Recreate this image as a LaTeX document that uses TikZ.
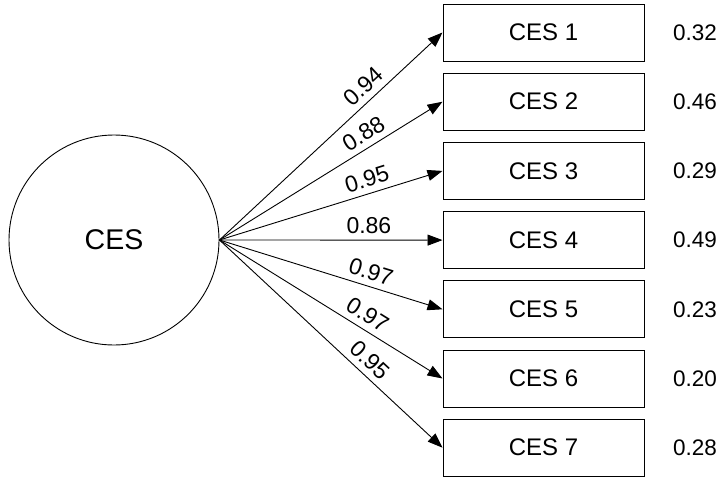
\documentclass[tikz,border=0pt]{standalone}
\usepackage{fontspec}
\setmainfont{Liberation Sans}
\usetikzlibrary{arrows.meta}

\begin{document}
\begin{tikzpicture}[x=1pt, y=-1pt,
  latent/.style={draw, circle, line width=0.9pt, minimum size=210pt, inner sep=0pt, font=\fontsize{28.5}{32}\selectfont},
  item/.style={draw, line width=1pt, minimum width=201pt, minimum height=57pt, inner sep=0pt, font=\fontsize{24}{28}\selectfont},
  resid/.style={font=\fontsize{22.5}{26}\selectfont},
  load/.style={-{Triangle[length=15pt, width=11pt]}, line width=0.9pt},
  lbl/.style={sloped, above=6pt, inner sep=0pt, font=\fontsize{23}{26}\selectfont}
]
  \useasboundingbox (0,0) rectangle (723,477);

  % latent factor
  \node[latent] (ces) at (114, 240) {CES};

  % indicators
  \node[item] (c1) at (543.5, 32.5) {CES 1};
  \node[item] (c2) at (543.5, 101.7) {CES 2};
  \node[item] (c3) at (543.5, 170.9) {CES 3};
  \node[item] (c4) at (543.5, 240.1) {CES 4};
  \node[item] (c5) at (543.5, 309.3) {CES 5};
  \node[item] (c6) at (543.5, 378.5) {CES 6};
  \node[item] (c7) at (543.5, 447.7) {CES 7};

  % error variances
  \node[resid] (e1) at (695, 32.5) {0.32};
  \node[resid] (e2) at (695, 101.7) {0.46};
  \node[resid] (e3) at (695, 170.9) {0.29};
  \node[resid] (e4) at (695, 240.1) {0.49};
  \node[resid] (e5) at (695, 309.3) {0.23};
  \node[resid] (e6) at (695, 378.5) {0.20};
  \node[resid] (e7) at (695, 447.7) {0.28};

  % loadings
  \draw[load] (ces.east) -- node[lbl, pos=0.69] {0.94} (c1.west);
  \draw[load] (ces.east) -- node[lbl, pos=0.68] {0.88} (c2.west);
  \draw[load] (ces.east) -- node[lbl, pos=0.68] {0.95} (c3.west);
  \draw[load] (ces.east) -- node[lbl, pos=0.67] {0.86} (c4.west);
  \draw[load] (ces.east) -- node[lbl, pos=0.66] {0.97} (c5.west);
  \draw[load] (ces.east) -- node[lbl, pos=0.63] {0.97} (c6.west);
  \draw[load] (ces.east) -- node[lbl, pos=0.63] {0.95} (c7.west);
\end{tikzpicture}
\end{document}
